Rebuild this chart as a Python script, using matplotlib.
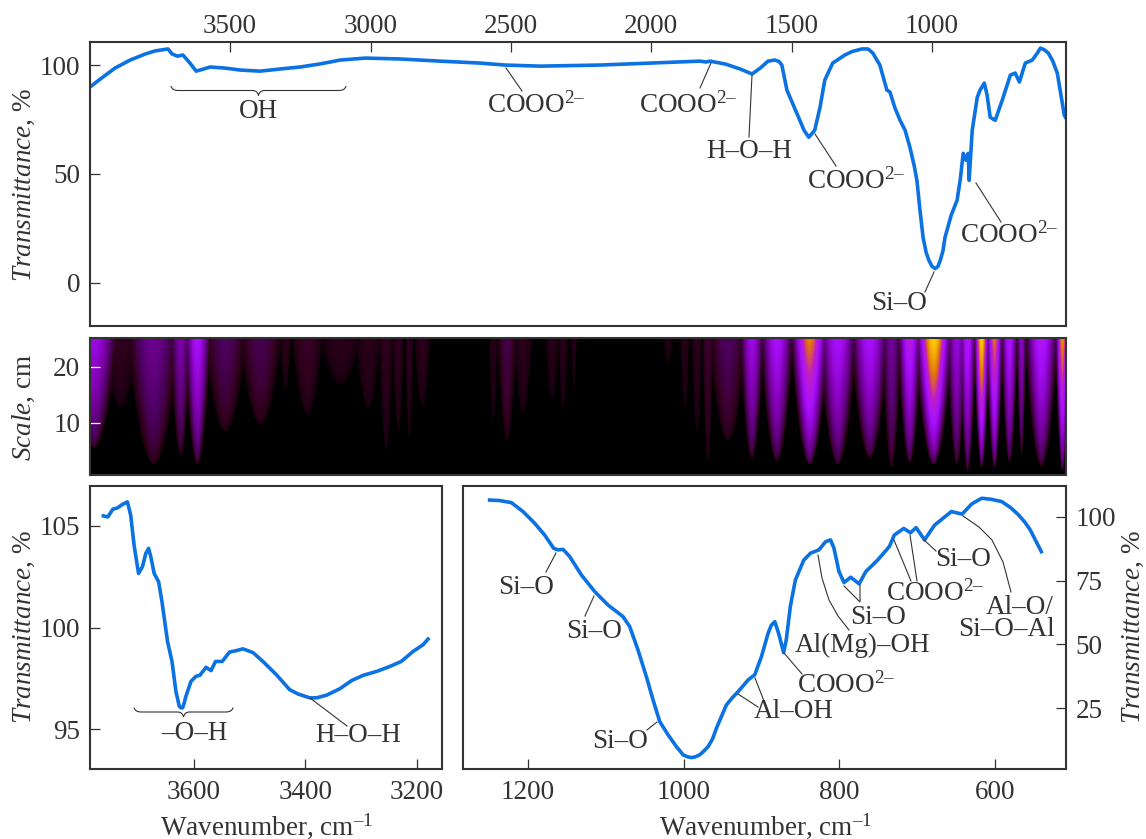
# IR spectra of the sample with the wavelet scale map under the full range curve
import numpy as np
import matplotlib
matplotlib.use('Agg')
import matplotlib.pyplot as plt
from matplotlib.colors import LinearSegmentedColormap
from matplotlib.lines import Line2D
from matplotlib.patches import PathPatch
from matplotlib.path import Path

plt.rcParams['font.family'] = ['Liberation Serif', 'DejaVu Serif']
plt.rcParams['mathtext.fontset'] = 'custom'
plt.rcParams['mathtext.rm'] = 'Liberation Serif'
plt.rcParams['mathtext.it'] = 'Liberation Serif:italic'
plt.rcParams['mathtext.bf'] = 'Liberation Serif:bold'

W, H = 1146, 839
INK = '#333333'
BLUE = '#0a72e2'
FS = 19.5

# full range spectrum
top_wn = [3999, 3963, 3910, 3856, 3802, 3767, 3721, 3707, 3688, 3668, 3643, 3621, 3607, 3571, 3518, 3464,
          3393, 3321, 3251, 3180, 3108, 3019, 2895, 2752, 2609, 2521, 2396, 2183, 2004, 1827, 1805, 1791,
          1737, 1684, 1641, 1612, 1584, 1559, 1545, 1535, 1517, 1471, 1456, 1439, 1418, 1399, 1382, 1368, 1354,
          1311, 1285, 1250, 1228, 1211, 1186, 1161, 1150, 1132, 1114, 1096, 1079, 1064, 1054, 1043, 1032, 1021,
          1011, 1000, 989, 979, 971, 961, 954, 932, 911, 900, 889, 879, 871, 868,
          857, 839, 829, 814, 804, 793, 775, 750, 721, 704, 689, 668, 643, 625, 614, 600, 586, 570, 554, 529, 523]
top_t = [89.9, 93.5, 98.6, 102.3, 105.1, 106.5, 107.4, 105.1, 104.1, 104.6, 100.9, 97.2, 97.7, 99.1, 98.6, 97.7,
         97.2, 98.2, 99.1, 100.5, 102.3, 103.2, 102.8, 101.8, 100.9, 100, 99.5, 100, 100.9, 101.8, 101.4, 101.8,
         100.5, 98.2, 95.9, 98.6, 101.8, 102.3, 101.6, 100, 88.5, 74.6, 70, 66.8, 70, 80.6, 93.1, 97, 100.9,
         104.6, 106.2, 107.4, 107.4, 105.5, 100, 88.5, 87.6, 80.2, 74.6, 70, 62.2, 53.9, 47, 33.2, 20.7, 13.8,
         10.1, 7.4, 6.4, 7.4, 10.1, 14.7, 20.7, 30.9, 37.8, 47, 59.4, 56.2, 59.4, 47,
         70, 85.2, 88.5, 91.7, 86.2, 76, 74.6, 83.9, 95.4, 96.3, 92.2, 100.9, 102.3, 105.5, 107.8, 107, 105.5,
         101.8, 96.3, 76.9, 75.6]

# OH region
left_wn = [3762, 3754, 3745, 3737, 3728, 3719, 3713, 3707, 3699, 3692, 3686, 3681, 3677, 3671, 3663, 3657, 3647,
           3639, 3632, 3626, 3623, 3620, 3617, 3614, 3605, 3596, 3589, 3578, 3569, 3561, 3549, 3536, 3524, 3512,
           3494, 3476, 3452, 3428, 3413, 3392, 3380, 3362, 3338, 3317, 3296, 3272, 3248, 3228, 3207, 3189, 3180]
left_t = [105.49, 105.44, 105.82, 105.88, 106.05, 106.18, 105.52, 104.05, 102.66, 102.99, 103.64, 103.89, 103.48,
          102.66, 102.25, 101.27, 99.31, 98.33, 96.86, 96.13, 96.05, 96.05, 96.3, 96.62, 97.35, 97.6, 97.65, 98.04,
          97.88, 98.33, 98.33, 98.79, 98.86, 98.95, 98.77, 98.33, 97.68, 96.94, 96.73, 96.54, 96.54, 96.67, 96.99,
          97.39, 97.65, 97.84, 98.09, 98.33, 98.82, 99.15, 99.43]

# fingerprint region
right_wn = [1249.3, 1236.4, 1221.4, 1206.4, 1191.4, 1178.6, 1167, 1161.5, 1155, 1146.5, 1131.5, 1114.4, 1097.2, 1078,
            1069.4, 1058.7, 1048, 1039.4, 1030.8, 1020.1, 1009.4, 1004.5, 1000.9, 995, 990.1, 985, 979.4, 975, 968.7,
            963, 958, 952, 945.2, 938, 930.2, 917.3, 908.8, 900.2, 891.6, 887.5, 883, 878.2, 871.7, 868.3, 863.1,
            856.6, 845.8, 837.2, 826.4, 817.8, 811.4, 807, 800.6, 794.1, 785.5, 774.7, 766.1, 751, 735.9, 729.5,
            717.4, 708.8, 701.5, 690.7, 677.8, 656.2, 642.4, 630, 617.4, 605, 591.6, 580, 570, 562, 554.9, 540.7]
right_t = [106.5, 106.3, 105.5, 102, 97.4, 92.8, 87.6, 87, 87.2, 84.4, 77.2, 70.7, 65.4, 60.9,
           57, 47.8, 37.4, 28.3, 19.8, 14.6, 10, 8.2, 6.8, 6, 5.7, 6, 6.8, 8, 10,
           13, 17.2, 21.5, 26.3, 29, 31.5, 36.1, 38.1, 45.2, 54.4, 57.5, 58.9, 54.4, 46.8, 51.8, 64.8,
           75.2, 83, 85.7, 87, 90.2, 90.9, 87.6, 78.5, 74.2, 76.3, 73.7, 78.5, 83, 88.3, 92.8,
           95.4, 93.7, 95.7, 90.9, 96.7, 102, 101, 105, 107.2, 106.8, 105.9, 103.5, 100.7, 97.9, 94.8, 86.3]

# scale map, one entry per band seen in the map: centre, half width, lowest scale reached, strength
band_wn = [3987, 3892, 3774, 3678, 3618, 3518, 3393, 3304, 3226, 3108, 3009, 2945, 2902, 2863, 2816, 2563, 2514,
           2457, 2353, 2314, 2275, 1940, 1880, 1837, 1798, 1727, 1641, 1552, 1435, 1335, 1221, 1143, 1079, 993,
           911, 872, 822, 776, 723, 680, 609, 534]
band_hw = [59, 47, 65, 26, 33, 53, 53, 15, 39, 53, 33, 18, 15, 10, 21, 12, 24,
           24, 18, 14, 7, 12, 12, 14, 14, 47, 30, 41, 47, 47, 47, 24, 30, 47,
           24, 21, 20, 21, 21, 12, 41, 18]
band_reach = [5.4, 12.6, 2.4, 4.2, 2.4, 8.4, 9.6, 15.9, 11.4, 16.8, 12.3, 4.8, 8.4, 6.6, 12.3, 9.6, 6.6,
              11.4, 14.1, 12.3, 15.9, 20.4, 12, 7.8, 2.7, 6.6, 3.6, 3, 2.4, 2.4, 3.6, 1.8, 2.7, 2.4,
              2.4, 1.2, 1.8, 1.8, 2.7, 4.2, 2.1, 1.2]
band_peak = [0.62, 0.14, 0.42, 0.48, 0.68, 0.3, 0.27, 0.12, 0.18, 0.12, 0.12, 0.14, 0.14, 0.14, 0.12, 0.1, 0.25,
             0.12, 0.1, 0.1, 0.1, 0.08, 0.1, 0.12, 0.2, 0.3, 0.62, 0.68, 0.9, 0.68, 0.68, 0.45, 0.75, 1.0,
             0.6, 0.72, 1.0, 0.88, 0.7, 0.55, 0.72, 0.92]

top_xticks = [3500, 3000, 2500, 2000, 1500, 1000]
top_yticks = [0, 50, 100]
map_yticks = [10, 20]
left_xticks = [3600, 3400, 3200]
left_yticks = [95, 100, 105]
right_xticks = [1200, 1000, 800, 600]
right_yticks = [25, 50, 75, 100]

COOO = 'COOO$^{2\u2013}$'
# text, x px, y px
labels = [('OH', 258, 112), (COOO, 536, 105), (COOO, 688, 105), ('H\u2013O\u2013H', 749, 152),
          (COOO, 856, 181), (COOO, 1009, 235), ('Si\u2013O', 899, 304),
          ('\u2013O\u2013H', 194, 733), ('H\u2013O\u2013H', 358, 735),
          ('Si\u2013O', 526, 588), ('Si\u2013O', 594, 631), ('Si\u2013O', 620, 742), ('Al\u2013OH', 794, 712),
          (COOO, 846, 685), ('Al(Mg)\u2013OH', 863, 645), ('Si\u2013O', 878, 617), (COOO, 935, 593),
          ('Si\u2013O', 963, 559), ('Al\u2013O/', 1020, 607), ('Si\u2013O\u2013Al', 1006, 630)]
# leader lines, pixel polylines
leaders = [[(506, 68), (522, 91)], [(711, 63), (700, 88)], [(752, 75), (749, 137)], [(815, 134), (836, 166)],
           [(976, 183), (1001, 222)], [(934, 272), (925, 292)], [(310, 698), (347, 726)],
           [(556, 553), (546, 572)], [(594, 596), (585, 616)], [(657, 722), (647, 730)],
           [(738, 694), (758, 707)], [(755, 678), (764, 701)], [(784, 653), (802, 674)],
           [(818, 555), (822, 578), (829, 600), (838, 616), (849, 630)],
           [(844, 586), (860, 602), (860, 585)], [(894, 540), (911, 581)], [(910, 535), (917, 581)],
           [(924, 540), (936, 551)], [(963, 516), (979, 527), (992, 540), (1003, 562), (1011, 592)]]
# braces: left, right, y of flat part
braces = [(171, 346, 90.5), (134, 233, 712)]


def axes_px(left, top, right, bottom):
    return fig.add_axes([left / W, 1 - bottom / H, (right - left) / W, (bottom - top) / H])


def style(ax):
    for s in ax.spines.values():
        s.set_linewidth(1.5)
        s.set_color(INK)
    ax.tick_params(direction='in', length=7, width=0.9, color=INK, labelcolor=INK, labelsize=FS, pad=7)


def brace(x0, x1, y):
    xm = (x0 + x1) / 2
    verts = [(x0, y - 4.5), (x0 + 1, y), (x0 + 7, y), (xm - 6, y), (xm - 1, y), (xm, y + 5),
             (xm + 1, y), (xm + 6, y), (x1 - 7, y), (x1 - 1, y), (x1, y - 4.5)]
    codes = [Path.MOVETO, Path.CURVE3, Path.CURVE3, Path.LINETO, Path.CURVE3, Path.CURVE3,
             Path.CURVE3, Path.CURVE3, Path.LINETO, Path.CURVE3, Path.CURVE3]
    verts = [(a / W, 1 - b / H) for a, b in verts]
    fig.add_artist(PathPatch(Path(verts, codes), fc='none', ec=INK, lw=0.8, transform=fig.transFigure))


fig = plt.figure(figsize=(W / 100, H / 100), dpi=100)

# top panel
ax1 = axes_px(90, 42, 1066, 326)
ax1.plot(top_wn, top_t, color=BLUE, lw=2.6)
ax1.set_xlim(3999, 523)
ax1.set_ylim(-20, 110.6)
ax1.set_xticks(top_xticks)
ax1.set_yticks(top_yticks)
style(ax1)
ax1.tick_params(axis='x', top=True, bottom=False, labeltop=True, labelbottom=False, pad=2)

# scale map
xs = np.linspace(3999, 523, 976)
ss = np.linspace(25.2, 0.6, 137)
Z = np.zeros((len(ss), len(xs)))
for c, hw, reach, peak in zip(band_wn, band_hw, band_reach, band_peak):
    v = np.clip((ss - reach) / (25.2 - reach), 0, 1)[:, None]
    w = 1.5 * hw * v ** 0.5 + 0.1
    Z = np.maximum(Z, peak * np.clip(1 - ((xs - c) / w) ** 2, 0, 1) * v ** 0.35)

cmap = LinearSegmentedColormap.from_list('map', [(0, '#000000'), (0.05, '#1a0010'), (0.15, '#33001f'),
                                                 (0.3, '#4d0060'), (0.5, '#8000b0'), (0.68, '#a810ff'),
                                                 (0.8, '#c020c0'), (0.88, '#e07010'), (1, '#ffd000')])
ax2 = axes_px(90, 338, 1066, 475)
ax2.imshow(Z, extent=[3999, 523, 0.6, 25.2], aspect='auto', cmap=cmap, vmin=0, vmax=1, interpolation='bilinear')
ax2.set_xticks([])
ax2.set_yticks(map_yticks)
style(ax2)
ax2.tick_params(axis='y', color='white')

# OH region
ax3 = axes_px(90, 486, 442, 769)
ax3.plot(left_wn, left_t, color=BLUE, lw=2.6)
ax3.set_xlim(3786, 3155)
ax3.set_ylim(93.04, 106.96)
ax3.set_xticks(left_xticks)
ax3.set_yticks(left_yticks)
style(ax3)

# fingerprint region
ax4 = axes_px(463, 486, 1066, 769)
ax4.plot(right_wn, right_t, color=BLUE, lw=2.6)
ax4.set_xlim(1283.5, 509)
ax4.set_ylim(1.24, 112)
ax4.set_xticks(right_xticks)
ax4.set_yticks(right_yticks)
style(ax4)
ax4.tick_params(axis='y', left=False, right=True, labelleft=False, labelright=True)

for a in (ax3, ax4):
    a.tick_params(axis='x', pad=8)

for txt, x, y in labels:
    fig.text(x / W, 1 - y / H, txt, ha='center', va='center', fontsize=FS, color=INK)
for pts in leaders:
    fig.add_artist(Line2D([p[0] / W for p in pts], [1 - p[1] / H for p in pts], color=INK, lw=0.8))
for b in braces:
    brace(*b)

# axis titles
TR = r'$\mathit{Transmittance}$, %'
fig.text(24 / W, 1 - 185 / H, TR, rotation=90, ha='center', va='center', fontsize=FS, color=INK)
fig.text(24 / W, 1 - 627 / H, TR, rotation=90, ha='center', va='center', fontsize=FS, color=INK)
fig.text(1133 / W, 1 - 627 / H, TR, rotation=90, ha='center', va='center', fontsize=FS, color=INK)
fig.text(24 / W, 1 - 407 / H, r'$\mathit{Scale}$, cm', rotation=90, ha='center', va='center', fontsize=FS, color=INK)
WN = 'Wavenumber, cm$^{\u20131}$'
fig.text(266 / W, 1 - 826 / H, WN, ha='center', va='center', fontsize=FS, color=INK)
fig.text(765 / W, 1 - 826 / H, WN, ha='center', va='center', fontsize=FS, color=INK)

fig.savefig('out.png', dpi=100)
